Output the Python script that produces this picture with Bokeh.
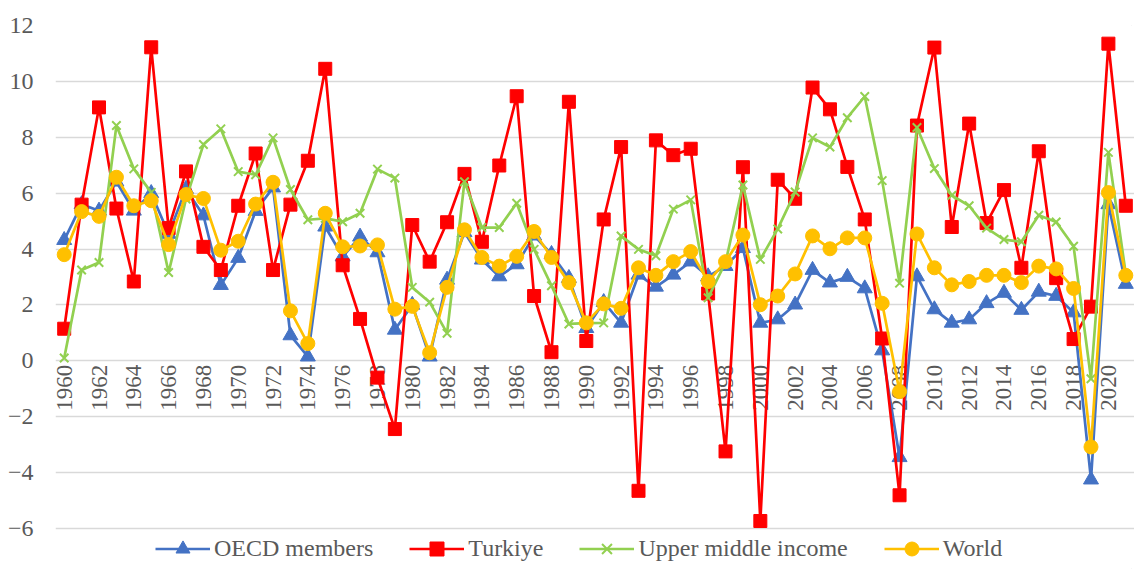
import math
from bokeh.plotting import figure
from bokeh.models import Range1d, FixedTicker, Legend, LegendItem
from bokeh.core.properties import value
from bokeh.embed import file_html
from bokeh.resources import INLINE

years = list(range(1960, 2022))

oecd = [4.32, 5.6, 5.37, 6.41, 5.37, 6.0, 4.54, 6.15, 5.2, 2.71,
        3.68, 5.36, 6.2, 0.91, 0.15, 4.8, 3.73, 4.44, 3.88, 1.11,
        2.0, 0.15, 2.9, 4.6, 3.62, 3.02, 3.45, 4.48, 3.82, 2.96,
        1.17, 2.1, 1.36, 3.08, 2.65, 3.08, 3.55, 3.02, 3.39, 4.03,
        1.36, 1.48, 2.01, 3.25, 2.8, 3.0, 2.59, 0.37, -3.45, 3.02,
        1.84, 1.36, 1.48, 2.06, 2.43, 1.82, 2.47, 2.32, 1.73, -4.25,
        5.6, 2.75]

turkiye = [1.15, 5.59, 9.07, 5.45, 2.84, 11.22, 4.75, 6.78, 4.08, 3.25,
           5.55, 7.42, 3.25, 5.59, 7.16, 10.45, 3.42, 1.5, -0.6, -2.44,
           4.86, 3.55, 4.96, 6.69, 4.26, 6.99, 9.47, 2.32, 0.31, 9.27,
           0.71, 5.06, 7.65, -4.65, 7.89, 7.36, 7.59, 2.41, -3.24, 6.93,
           -5.73, 6.48, 5.8, 9.78, 9.0, 6.94, 5.06, 0.8, -4.81, 8.42,
           11.21, 4.79, 8.49, 4.93, 6.11, 3.33, 7.5, 2.96, 0.78, 1.94,
           11.35, 5.55]

upper_middle = [0.1, 3.25, 3.52, 8.42, 6.87, 6.03, 3.16, 5.79, 7.74, 8.3,
                6.77, 6.66, 7.98, 6.13, 5.05, 5.1, 4.98, 5.28, 6.86, 6.54,
                2.63, 2.1, 0.99, 6.41, 4.77, 4.77, 5.64, 3.99, 2.69, 1.32,
                1.35, 1.36, 4.47, 3.99, 3.76, 5.43, 5.76, 2.26, 3.52, 6.29,
                3.63, 4.72, 6.04, 7.98, 7.65, 8.7, 9.46, 6.45, 2.78, 8.35,
                6.88, 5.92, 5.55, 4.75, 4.34, 4.26, 5.21, 4.97, 4.1, -0.64,
                7.46, 3.1]

world = [3.8, 5.34, 5.17, 6.57, 5.55, 5.73, 4.16, 5.95, 5.81, 3.96,
         4.28, 5.61, 6.39, 1.79, 0.62, 5.28, 4.08, 4.11, 4.15, 1.85,
         1.95, 0.29, 2.63, 4.69, 3.7, 3.39, 3.74, 4.63, 3.7, 2.8,
         1.36, 2.04, 1.88, 3.33, 3.06, 3.55, 3.91, 2.84, 3.55, 4.5,
         2.01, 2.32, 3.11, 4.47, 4.01, 4.4, 4.4, 2.06, -1.1, 4.54,
         3.33, 2.72, 2.84, 3.06, 3.06, 2.8, 3.39, 3.29, 2.59, -3.08,
         6.02, 3.06]

y_ticks = [-6, -4, -2, 0, 2, 4, 6, 8, 10, 12]
x_label_years = list(range(1960, 2021, 2))
x_labels = [str(y) for y in x_label_years]

series_names = ["OECD members", "Turkiye", "Upper middle income", "World"]
series_colors = ["#4472C4", "#FF0000", "#92D050", "#FFC000"]

FONT = "Liberation Serif"
TXT = "#595959"
GRID = "#D9D9D9"

p = figure(width=1134, height=572, output_backend="svg", toolbar_location=None,
           x_range=Range1d(1959.5, 2021.5), y_range=Range1d(-7.43, 12),
           x_axis_location=None, min_border_left=55, min_border_right=0,
           min_border_top=25, min_border_bottom=4)
p.outline_line_color = None
p.background_fill_color = "white"
p.border_fill_color = "white"
p.styles = {"outline": "1px solid #D9D9D9", "outline-offset": "-3px"}

p.xgrid.visible = False
p.ygrid.ticker = FixedTicker(ticks=y_ticks)
p.ygrid.grid_line_color = GRID
p.ygrid.grid_line_width = 1.5

p.yaxis.ticker = FixedTicker(ticks=y_ticks)
p.yaxis.axis_line_color = None
p.yaxis.major_tick_line_color = None
p.yaxis.minor_tick_line_color = None
p.yaxis.major_tick_out = 0
p.yaxis.major_tick_in = 0
p.yaxis.major_label_standoff = 22
p.yaxis.major_label_text_font = FONT
p.yaxis.major_label_text_font_size = "24px"
p.yaxis.major_label_text_color = TXT

# year labels along the zero line
p.text(x=x_label_years, y=[0] * len(x_label_years), text=x_labels,
       angle=math.pi / 2, text_align="right", text_baseline="middle",
       y_offset=4, text_font=value(FONT), text_font_size="23px", text_color=TXT)

lw = 2.7
l1 = p.line(years, oecd, line_color=series_colors[0], line_width=lw)
s1 = p.scatter(years, oecd, marker="triangle", size=15, fill_color=series_colors[0],
               line_color=series_colors[0])
l2 = p.line(years, turkiye, line_color=series_colors[1], line_width=lw)
s2 = p.scatter(years, turkiye, marker="square", size=13, fill_color=series_colors[1],
               line_color=series_colors[1])
l3 = p.line(years, upper_middle, line_color=series_colors[2], line_width=lw)
s3 = p.scatter(years, upper_middle, marker="x", size=12, line_color=series_colors[2],
               line_width=2)
l4 = p.line(years, world, line_color=series_colors[3], line_width=lw)
s4 = p.scatter(years, world, marker="circle", size=14, fill_color=series_colors[3],
               line_color=series_colors[3])

items = [LegendItem(label=series_names[0], renderers=[l1, s1]),
         LegendItem(label=series_names[1], renderers=[l2, s2]),
         LegendItem(label=series_names[2], renderers=[l3, s3]),
         LegendItem(label=series_names[3], renderers=[l4, s4])]

legend = Legend(items=items, orientation="horizontal", location=(100, 2),
                border_line_color=None, background_fill_alpha=0,
                label_text_font=FONT, label_text_font_size="24px",
                label_text_color=TXT, glyph_width=55, glyph_height=35,
                label_height=35, label_standoff=4, spacing=36, padding=0, margin=0)
p.add_layout(legend)

open("out.html", "w").write(file_html(p, INLINE))
